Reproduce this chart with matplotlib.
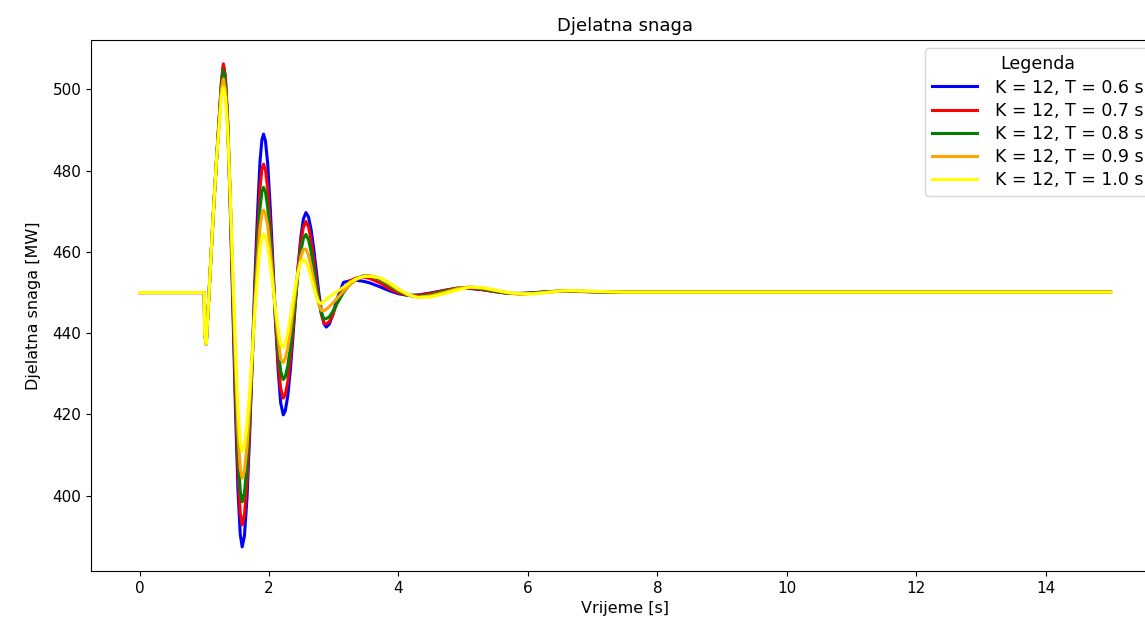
import matplotlib
matplotlib.use("Agg")
import matplotlib.pyplot as plt

# Time axis [s] (shared by all runs)
time_s = [
    0.0, 1.0, 1.005, 1.03, 1.07, 1.11, 1.15, 1.19, 1.23, 1.265,
    1.295, 1.325, 1.36, 1.40, 1.44, 1.48, 1.52, 1.555, 1.585, 1.62,
    1.66, 1.70, 1.74, 1.78, 1.82, 1.86, 1.89, 1.915, 1.945, 1.98,
    2.02, 2.06, 2.10, 2.14, 2.18, 2.22, 2.25, 2.29, 2.33, 2.37,
    2.41, 2.45, 2.49, 2.53, 2.57, 2.61, 2.65, 2.69, 2.73, 2.77,
    2.81, 2.85, 2.885, 2.93, 2.98, 3.05, 3.15, 3.25, 3.35, 3.45,
    3.55, 3.7, 3.85, 4.0, 4.15, 4.3, 4.5, 4.7, 4.9, 5.1,
    5.3, 5.5, 5.7, 5.9, 6.1, 6.3, 6.5, 6.7, 7.0, 7.5,
    8.0, 15.0,
]

# Active power [MW], K = 12, T = 0.6 s
p_t06 = [
    450, 450, 440, 437.3, 449, 461, 472.5, 483, 493, 501.8,
    506.0, 502.9, 492.0, 471.4, 446.7, 422.0, 401.4, 390.5, 387.4, 390.1,
    399.6, 414.8, 433.4, 452.5, 468.7, 482.2, 487.6, 489.0, 487.3, 481.6,
    470.5, 457.1, 443.0, 431.1, 422.8, 419.9, 420.8, 424.6, 431.1, 439.3,
    448.1, 456.6, 463.5, 468.1, 469.7, 468.6, 465.5, 460.8, 455.3, 449.8,
    445.3, 442.3, 441.5, 442.2, 444.3, 448.4, 452.5, 452.9, 453.0, 452.8,
    452.4, 451.5, 450.5, 449.7, 449.3, 449.4, 449.9, 450.5, 451.0, 451.0,
    450.7, 450.2, 449.8, 449.8, 450.0, 450.2, 450.3, 450.3, 450.2, 450.1,
    450.1, 450.1,
]

# K = 12, T = 0.7 s
p_t07 = [
    450, 450, 440, 437.3, 449, 461, 472.5, 483, 493, 502.0,
    506.3, 503.3, 492.9, 473.2, 449.6, 425.9, 406.2, 395.7, 392.8, 395.2,
    403.5, 416.8, 433.0, 449.7, 463.8, 475.6, 480.4, 481.6, 480.2, 475.4,
    466.2, 455.0, 443.2, 433.3, 426.4, 424.0, 424.8, 428.1, 433.7, 441.0,
    448.7, 456.1, 462.1, 466.1, 467.5, 466.2, 462.9, 458.4, 453.2, 448.3,
    444.5, 442.4, 442.3, 442.8, 444.3, 447.4, 450.9, 452.9, 453.6, 453.8,
    453.5, 452.5, 451.0, 449.9, 449.3, 449.3, 449.8, 450.5, 451.1, 451.1,
    450.7, 450.2, 449.8, 449.7, 449.9, 450.2, 450.3, 450.3, 450.2, 450.1,
    450.1, 450.1,
]

# K = 12, T = 0.8 s
p_t08 = [
    450, 450, 440, 437.3, 449, 461, 472.5, 483, 492.5, 501.0,
    504.7, 501.9, 492.2, 473.7, 451.6, 429.5, 411.0, 401.2, 398.5, 400.6,
    407.8, 419.4, 433.6, 448.1, 460.4, 470.7, 474.8, 475.9, 474.8, 470.8,
    463.2, 454.1, 444.4, 436.3, 430.6, 428.6, 429.2, 432.0, 436.6, 442.6,
    448.9, 455.0, 460.0, 463.3, 464.3, 463.0, 460.1, 456.1, 451.7, 447.7,
    444.8, 443.5, 443.6, 444.0, 445.2, 447.3, 450.0, 452.1, 453.4, 454.1,
    454.1, 453.3, 451.8, 450.3, 449.3, 449.0, 449.5, 450.3, 451.0, 451.3,
    450.9, 450.3, 449.8, 449.7, 449.9, 450.2, 450.4, 450.4, 450.2, 450.1,
    450.1, 450.1,
]

# K = 12, T = 0.9 s
p_t09 = [
    450, 450, 440, 437.3, 449, 461, 472.5, 483, 492.0, 500.0,
    502.6, 500.0, 491.0, 473.9, 453.5, 433.0, 415.9, 406.8, 404.3, 406.1,
    412.2, 422.1, 434.2, 446.6, 457.1, 465.9, 469.4, 470.3, 469.4, 466.3,
    460.2, 453.0, 445.3, 438.8, 433.6, 432.8, 433.7, 436.4, 440.5, 445.5,
    450.6, 455.3, 458.8, 460.6, 460.7, 459.2, 456.5, 453.2, 449.8, 447.1,
    445.6, 445.5, 445.9, 446.5, 447.3, 448.6, 450.3, 451.9, 453.2, 454.0,
    454.2, 453.6, 452.2, 450.6, 449.4, 448.8, 449.2, 450.0, 450.9, 451.4,
    451.1, 450.5, 449.9, 449.6, 449.8, 450.1, 450.4, 450.4, 450.3, 450.1,
    450.1, 450.1,
]

# K = 12, T = 1.0 s
p_t10 = [
    450, 450, 440, 437.3, 449, 461, 472.5, 483, 491.0, 498.5,
    500.6, 498.3, 490.0, 474.4, 455.8, 437.1, 421.5, 413.2, 410.9, 412.3,
    417.3, 425.3, 435.1, 445.2, 453.7, 460.8, 463.7, 464.4, 463.7, 461.4,
    456.9, 451.5, 445.8, 441.0, 437.3, 436.5, 437.6, 440.1, 443.7, 447.8,
    451.8, 455.2, 457.4, 458.2, 457.6, 456.0, 453.7, 451.2, 449.1, 447.6,
    447.3, 447.8, 448.4, 448.9, 449.5, 450.2, 451.3, 452.5, 453.4, 453.9,
    454.0, 453.7, 452.5, 450.9, 449.5, 448.8, 448.9, 449.7, 450.6, 451.3,
    451.2, 450.6, 450.0, 449.7, 449.7, 450.0, 450.4, 450.5, 450.3, 450.1,
    450.1, 450.1,
]

series = [p_t06, p_t07, p_t08, p_t09, p_t10]
labels = ['K = 12, T = 0.6 s', 'K = 12, T = 0.7 s', 'K = 12, T = 0.8 s',
          'K = 12, T = 0.9 s', 'K = 12, T = 1.0 s']
colors = ['blue', 'red', 'green', 'orange', 'yellow']

fig = plt.figure(figsize=(11.45, 6.2), dpi=100)
# the original screenshot cuts the plot off on the right
ax = fig.add_axes([0.0795, 0.079, 0.9328, 0.857])

for values, label, color in zip(series, labels, colors):
    ax.plot(time_s, values, color=color, linewidth=2.2, label=label)

ax.set_title('Djelatna snaga', fontsize=13)
ax.set_xlabel('Vrijeme [s]', fontsize=11.5)
ax.set_ylabel('Djelatna snaga [MW]', fontsize=11.5, labelpad=8)
ax.tick_params(labelsize=11)
ax.spines['right'].set_visible(False)  # lies outside the cropped picture
ax.legend(title='Legenda', loc='upper right', fontsize=12.5, title_fontsize=12.5,
          labelspacing=0.3, handlelength=2.6, handletextpad=1.0)

fig.savefig('out.png', dpi=100)
